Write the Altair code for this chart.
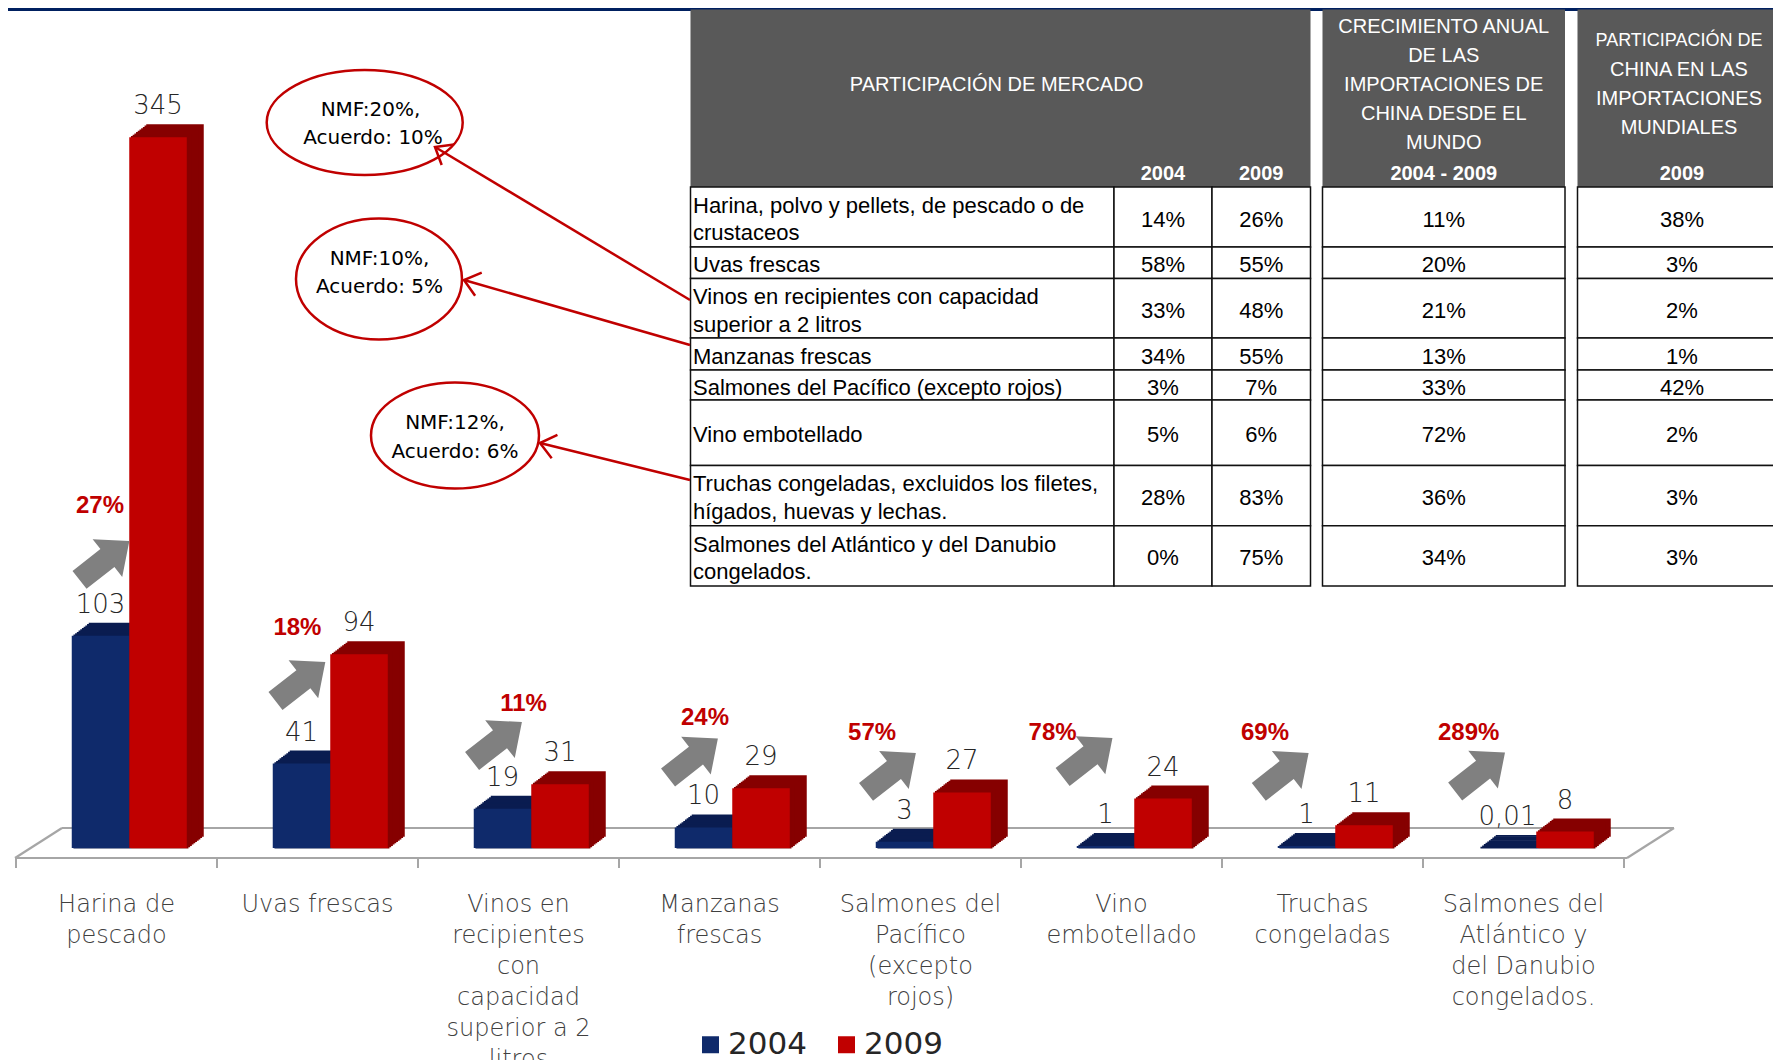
import math
import altair as alt
import pandas as pd

# ------------------------------------------------------------------ data
categories = [
    "Harina de pescado", "Uvas frescas",
    "Vinos en recipientes con capacidad superior a 2 litros",
    "Manzanas frescas", "Salmones del Pacífico (excepto rojos)",
    "Vino embotellado", "Truchas congeladas",
    "Salmones del Atlántico y del Danubio congelados.",
]
category_labels = [
    "Harina de\npescado", "Uvas frescas",
    "Vinos en\nrecipientes\ncon\ncapacidad\nsuperior a 2\nlitros",
    "Manzanas\nfrescas", "Salmones del\nPacífico\n(excepto\nrojos)",
    "Vino\nembotellado", "Truchas\ncongeladas",
    "Salmones del\nAtlántico y\ndel Danubio\ncongelados.",
]
years = ["2004", "2009"]
values_2004 = [103, 41, 19, 10, 3, 1, 1, 0.01]
values_2009 = [345, 94, 31, 29, 27, 24, 11, 8]
growth = ["27%", "18%", "11%", "24%", "57%", "78%", "69%", "289%"]

table_products = [
    "Harina, polvo y pellets, de pescado o de\ncrustaceos",
    "Uvas frescas",
    "Vinos en recipientes con capacidad\nsuperior a 2 litros",
    "Manzanas frescas",
    "Salmones del Pacífico (excepto rojos)",
    "Vino embotellado",
    "Truchas congeladas, excluidos los filetes,\nhígados, huevas y lechas.",
    "Salmones del Atlántico y del Danubio\ncongelados.",
]
share_2004 = ["14%", "58%", "33%", "34%", "3%", "5%", "28%", "0%"]
share_2009 = ["26%", "55%", "48%", "55%", "7%", "6%", "83%", "75%"]
china_growth = ["11%", "20%", "21%", "13%", "33%", "72%", "36%", "34%"]
china_share = ["38%", "3%", "2%", "1%", "42%", "2%", "3%", "3%"]

header_market = ["PARTICIPACIÓN DE MERCADO"]
header_growth = ["CRECIMIENTO ANUAL", "DE LAS", "IMPORTACIONES DE", "CHINA DESDE EL", "MUNDO"]
header_china = ["PARTICIPACIÓN DE", "CHINA EN LAS", "IMPORTACIONES", "MUNDIALES"]
header_years = ["2004", "2009", "2004 - 2009", "2009"]

callout_texts = [["NMF:20%,", "Acuerdo: 10%"], ["NMF:10%,", "Acuerdo: 5%"], ["NMF:12%,", "Acuerdo: 6%"]]

# ------------------------------------------------------------------ layout / style
W, H = 1765, 1052
OFF = 8
N = len(categories)

NAVY, NAVY_DARK = "#0F2A6B", "#0A1C50"
RED, RED_DARK = "#C00000", "#860000"
BAND_NAVY = "#002060"
GRAY_HEAD = "#595959"
ARROW_GRAY = "#808080"
TEXT_DARK, TEXT_MID = "#262626", "#404040"
CALL_RED = "#C00000"
CHART_FONT = "DejaVu Sans"
TABLE_FONT = "Liberation Sans"

BAND0, STEP = 16, 201
BASE_Y, PX_UNIT, YMAX = 848, 2.06, 400
BAR_W = 57.5
BAR_SHIFT = {"2004": -16.0, "2009": 41.5}
DEPTH_X, DEPTH_Y, N_STEPS = 17.0, 13.0, 10

# annotation placement (slot offset within category, level in value units)
GROWTH_POS = [(0.418, 166), (0.400, 107), (0.525, 70), (0.428, 63),
              (0.259, 56), (0.157, 56), (0.214, 56), (0.227, 56)]
ARROW_POS = [(0.440, 139.6), (0.415, 80.8), (0.393, 51.7), (0.368, 43.7),
             (0.353, 36.7), (0.331, 43.9), (0.307, 36.7), (0.284, 36.9)]
ARROW_PATH = "M -1 -0.36 L 0.12 -0.36 L 0.12 -0.76 L 1 0 L 0.12 0.76 L 0.12 0.36 L -1 0.36 Z"

# table geometry (page pixels)
ROW_EDGES = [187, 247, 278.5, 338, 370, 400, 465.5, 525.7, 586]
HEAD_TOP = 9.6
TABLE_COLS = [(690.5, 1114), (1114, 1212), (1212, 1310.5), (1322.5, 1565), (1577.5, 1786.5)]
HEAD_BLOCKS = [(690.5, 1310.5), (1322.5, 1565), (1577.5, 1786.5)]

# callouts (page pixels)
ELLIPSES = [(364.7, 122.5, 98, 52.5), (379, 279, 83, 60.5), (455, 435.5, 84, 53)]
CALLOUT_TEXT_POS = [[(370.5, 110), (373, 138)], [(379.5, 259), (379.5, 287)], [(455, 423), (455, 452)]]
CONNECTORS = [(690, 300, 435, 147), (690, 345, 464, 280), (690, 480, 540, 443)]

# ------------------------------------------------------------------ scales
x_cat = alt.Scale(domain=categories, range=[BAND0 - OFF, BAND0 + N * STEP - OFF],
                  paddingInner=0, paddingOuter=0)
x_slot = alt.Scale(domain=[0, N], range=[BAND0 - OFF, BAND0 + N * STEP - OFF], zero=False, nice=False)
y_val = alt.Scale(domain=[0, YMAX], range=[BASE_Y - OFF, BASE_Y - OFF - YMAX * PX_UNIT], zero=False, nice=False)
px = alt.Scale(domain=[OFF, OFF + W], range=[0, W], zero=False, nice=False)
py = alt.Scale(domain=[OFF, OFF + H], range=[0, H], zero=False, nice=False)
color_scale = alt.Scale(domain=years, range=[NAVY, RED])
legend = alt.Legend(orient="none", legendX=687, legendY=1021, direction="horizontal", title=None,
                    symbolType="square", symbolSize=289, symbolStrokeWidth=0,
                    labelFontSize=31, labelFont=CHART_FONT, labelColor=TEXT_DARK,
                    labelOffset=2, columnPadding=24, padding=0)

one = pd.DataFrame({"a": [0]})

# ------------------------------------------------------------------ floor
fl, fr, FSH = BAND0 - 1, BAND0 + N * STEP + 3, 47
FY, BY = 858, 828
floor_edges = pd.DataFrame({
    "x": [fl, fl + FSH, fl, fr], "x2": [fr, fr + FSH, fl + FSH, fr + FSH],
    "y": [FY, BY, FY, FY], "y2": [FY, BY, BY, BY]})
floor_ticks = pd.DataFrame({"x": [BAND0 + k * STEP for k in range(N + 1)]})
floor_group = alt.layer(
    alt.Chart(floor_edges).mark_rule(color="#A6A6A6", strokeWidth=2.2).encode(
        x=alt.X("x:Q", scale=px, axis=None), x2="x2:Q",
        y=alt.Y("y:Q", scale=py, axis=None), y2="y2:Q"),
    alt.Chart(floor_ticks).mark_rule(color="#A6A6A6", strokeWidth=2).encode(
        x=alt.X("x:Q", scale=px, axis=None),
        y=alt.value(FY - OFF), y2=alt.value(FY + 10 - OFF)),
)

# ------------------------------------------------------------------ bars
bars = pd.DataFrame({"category": categories * 2,
                     "year": ["2004"] * N + ["2009"] * N,
                     "value": values_2004 + values_2009})


def fmt(v):
    return str(int(v)) if float(v).is_integer() else str(v).replace(".", ",")


bars["label"] = [fmt(v) for v in bars["value"]]

bar_layers = []
for yr, dark in (("2004", NAVY_DARK), ("2009", RED_DARK)):
    base = alt.Chart(bars[bars["year"] == yr])
    xe = alt.X("category:N", scale=x_cat, axis=None)
    ye = alt.Y("value:Q", scale=y_val, axis=None)
    for k in range(N_STEPS, 0, -1):
        ox = BAR_SHIFT[yr] + DEPTH_X * k / N_STEPS
        oy = -DEPTH_Y * k / N_STEPS
        oy2 = oy + DEPTH_Y / N_STEPS + 0.5
        bar_layers.append(base.mark_bar(width=BAR_W, xOffset=ox, yOffset=oy, y2Offset=oy2, color=dark).encode(
            x=xe, y=ye, y2=alt.datum(0)))
    bar_layers.append(base.mark_bar(width=BAR_W, xOffset=BAR_SHIFT[yr]).encode(
        x=xe, y=ye, y2=alt.datum(0),
        color=alt.Color("year:N", scale=color_scale, legend=legend)))
for yr in years:
    bar_layers.append(alt.Chart(bars[bars["year"] == yr]).mark_text(
        xOffset=BAR_SHIFT[yr], dy=-31, font=CHART_FONT, fontSize=26, fontWeight=300,
        color=TEXT_DARK, baseline="middle").encode(
        x=alt.X("category:N", scale=x_cat, axis=None),
        y=alt.Y("value:Q", scale=y_val, axis=None), text="label:N"))

cat_df = pd.DataFrame({"category": categories, "label": category_labels})
bar_layers.append(alt.Chart(cat_df).mark_text(
    lineBreak="\n", lineHeight=31, baseline="top", font=CHART_FONT, fontSize=24,
    fontWeight=300, color=TEXT_MID).encode(
    x=alt.X("category:N", scale=x_cat, axis=None), y=alt.value(893 - OFF), text="label:N"))
bars_group = alt.layer(*bar_layers)

# ------------------------------------------------------------------ growth annotations
ann = pd.DataFrame({
    "growth": growth,
    "gx": [i + GROWTH_POS[i][0] for i in range(N)],
    "gy": [GROWTH_POS[i][1] for i in range(N)],
    "ax": [i + ARROW_POS[i][0] for i in range(N)],
    "ay": [ARROW_POS[i][1] for i in range(N)],
})
annot_group = alt.layer(
    alt.Chart(ann).mark_point(shape=ARROW_PATH, size=4000, angle=322, filled=True,
                              color=ARROW_GRAY, opacity=1, strokeWidth=0).encode(
        x=alt.X("ax:Q", scale=x_slot, axis=None), y=alt.Y("ay:Q", scale=y_val, axis=None)),
    alt.Chart(ann).mark_text(font=TABLE_FONT, fontSize=24, fontWeight="bold", color=RED,
                             baseline="middle").encode(
        x=alt.X("gx:Q", scale=x_slot, axis=None), y=alt.Y("gy:Q", scale=y_val, axis=None),
        text="growth:N"),
)

# ------------------------------------------------------------------ table
head_df = pd.DataFrame({"x": [b[0] for b in HEAD_BLOCKS], "x2": [b[1] for b in HEAD_BLOCKS],
                        "y": [HEAD_TOP] * 3, "y2": [ROW_EDGES[0]] * 3})
cells = []
for r in range(len(table_products)):
    for (a, b) in TABLE_COLS:
        cells.append({"x": a, "x2": b, "y": ROW_EDGES[r], "y2": ROW_EDGES[r + 1]})
cells_df = pd.DataFrame(cells)

LINE_H = 29
head_text = []
cx_blocks = [(HEAD_BLOCKS[0][0] + HEAD_BLOCKS[0][1]) / 2 - 4,
             (HEAD_BLOCKS[1][0] + HEAD_BLOCKS[1][1]) / 2,
             (TABLE_COLS[4][0] + TABLE_COLS[4][1]) / 2 - 3]
for lines, cx, y0, sizes in ((header_market, cx_blocks[0], 85, [20]),
                             (header_growth, cx_blocks[1], 26.8, [20] * 5),
                             (header_china, cx_blocks[2], 41.4, [18, 20, 20, 20])):
    for i, t in enumerate(lines):
        head_text.append({"x": cx, "y": y0 + i * LINE_H, "t": t, "fs": sizes[i]})
head_text_df = pd.DataFrame(head_text)
year_x = [(TABLE_COLS[i][0] + TABLE_COLS[i][1]) / 2 for i in (1, 2, 3, 4)]
head_year_df = pd.DataFrame({"x": year_x, "y": [174] * 4, "t": header_years})

name_rows, val_rows = [], []
for r, name in enumerate(table_products):
    top, bot = ROW_EDGES[r], ROW_EDGES[r + 1]
    cy = (top + bot) / 2 + 2.5
    lines = name.split("\n")
    for i, t in enumerate(lines):
        name_rows.append({"x": TABLE_COLS[0][0] + 2.5, "y": cy + (i - (len(lines) - 1) / 2) * 27.5, "t": t})
    for c, arr in zip((1, 2, 3, 4), (share_2004, share_2009, china_growth, china_share)):
        val_rows.append({"x": (TABLE_COLS[c][0] + TABLE_COLS[c][1]) / 2, "y": cy, "t": arr[r]})
name_df = pd.DataFrame(name_rows)
val_df = pd.DataFrame(val_rows)


def pxy(chart):
    return chart.encode(x=alt.X("x:Q", scale=px, axis=None), y=alt.Y("y:Q", scale=py, axis=None))


table_layers = [
    alt.Chart(head_df).mark_rect(color=GRAY_HEAD).encode(
        x=alt.X("x:Q", scale=px, axis=None), x2="x2:Q", y=alt.Y("y:Q", scale=py, axis=None), y2="y2:Q"),
    alt.Chart(cells_df).mark_rect(fill="white", stroke="#111111", strokeWidth=1.5).encode(
        x=alt.X("x:Q", scale=px, axis=None), x2="x2:Q", y=alt.Y("y:Q", scale=py, axis=None), y2="y2:Q"),
    pxy(alt.Chart(head_text_df).mark_text(font=TABLE_FONT, color="white",
                                          baseline="middle")).encode(
        text="t:N", size=alt.Size("fs:Q", scale=None)),
    pxy(alt.Chart(head_year_df).mark_text(font=TABLE_FONT, fontSize=20, fontWeight="bold",
                                          color="white", baseline="middle")).encode(text="t:N"),
    pxy(alt.Chart(name_df).mark_text(font=TABLE_FONT, fontSize=22, color="black", align="left",
                                     baseline="middle")).encode(text="t:N"),
    pxy(alt.Chart(val_df).mark_text(font=TABLE_FONT, fontSize=22, color="black",
                                    baseline="middle")).encode(text="t:N"),
]

# ------------------------------------------------------------------ callouts
call_layers = []
for (cx, cy, rx, ry) in ELLIPSES:
    r = ry / rx
    path = f"M -1 0 A 1 {r:.3f} 0 1 0 1 0 A 1 {r:.3f} 0 1 0 -1 0 Z"
    call_layers.append(pxy(alt.Chart(pd.DataFrame({"x": [cx], "y": [cy]})).mark_point(
        shape=path, size=(2 * rx) ** 2, filled=False, stroke=CALL_RED, strokeWidth=2.5, opacity=1)))
conn_df = pd.DataFrame({"x": [c[0] for c in CONNECTORS], "y": [c[1] for c in CONNECTORS],
                        "x2": [c[2] for c in CONNECTORS], "y2": [c[3] for c in CONNECTORS]})
tip_df = pd.DataFrame({"x": [c[2] for c in CONNECTORS], "y": [c[3] for c in CONNECTORS],
                       "ang": [math.degrees(math.atan2(c[3] - c[1], c[2] - c[0])) % 360 for c in CONNECTORS]})
call_layers.append(alt.Chart(conn_df).mark_rule(color=CALL_RED, strokeWidth=2.5).encode(
    x=alt.X("x:Q", scale=px, axis=None), x2="x2:Q", y=alt.Y("y:Q", scale=py, axis=None), y2="y2:Q"))
call_layers.append(pxy(alt.Chart(tip_df).mark_point(
    shape="M -1 -0.8 L 0 0 L -1 0.8", size=900, filled=False, stroke=CALL_RED,
    strokeWidth=2.5, opacity=1)).encode(angle=alt.Angle("ang:Q", scale=None)))
ct = []
for lines, pos in zip(callout_texts, CALLOUT_TEXT_POS):
    for t, (x, y) in zip(lines, pos):
        ct.append({"x": x, "y": y, "t": t})
call_layers.append(pxy(alt.Chart(pd.DataFrame(ct)).mark_text(
    font=CHART_FONT, fontSize=20, color="black", baseline="middle")).encode(text="t:N"))

band = alt.Chart(one).mark_rect(color=BAND_NAVY).encode(
    x=alt.value(0), x2=alt.value(W), y=alt.value(0), y2=alt.value(3))

overlay_group = alt.layer(band, *table_layers, *call_layers)

chart = alt.layer(floor_group, bars_group, annot_group, overlay_group).resolve_scale(
    x="independent", y="independent"
).properties(
    width=W, height=H, autosize=alt.AutoSizeParams(type="none"), padding=0
).configure_view(strokeWidth=0)

chart.save("out.html", embed_options={"renderer": "svg", "actions": False})
